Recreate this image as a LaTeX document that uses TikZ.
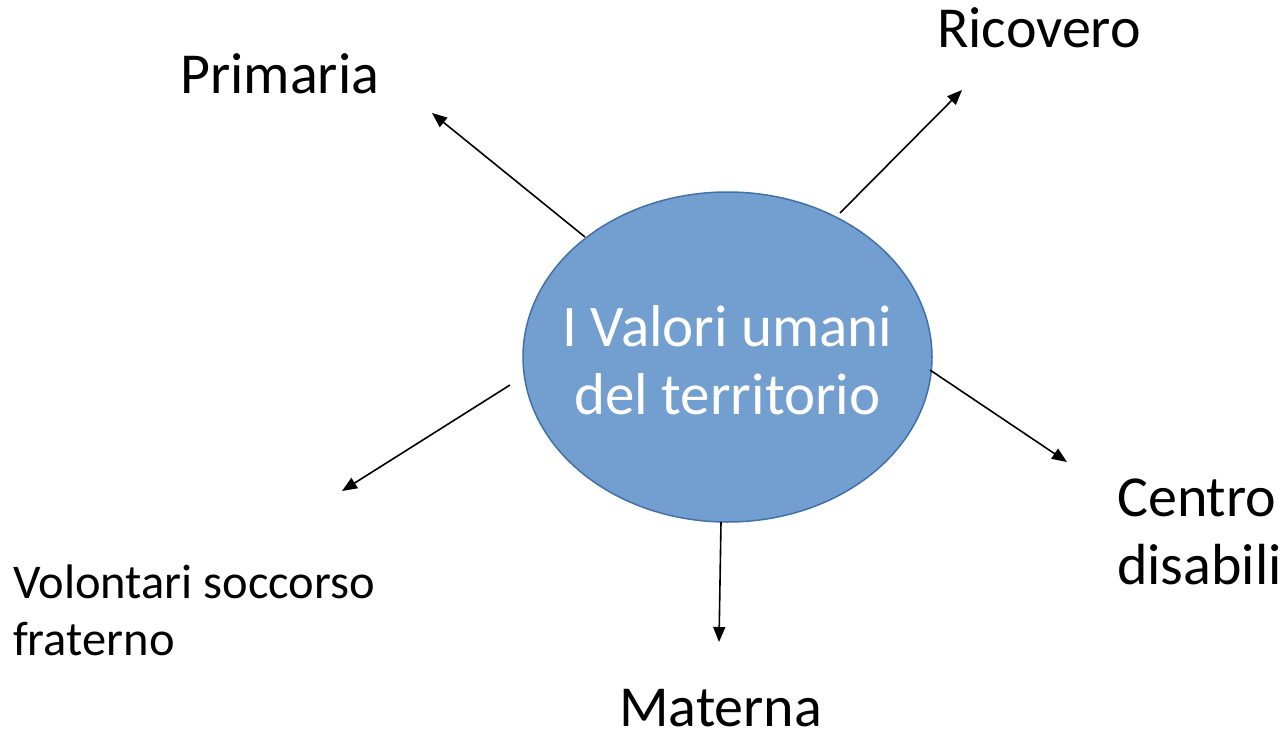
\documentclass[tikz,border=0pt]{standalone}
\usepackage{fontspec}
\setmainfont{Carlito}
\usetikzlibrary{arrows.meta,shapes.geometric}
\definecolor{ellfill}{RGB}{115,159,208}
\definecolor{elldraw}{RGB}{65,113,170}
\tikzset{
  conn/.style={line width=1.6pt,-{Triangle[length=15pt,width=12pt]}},
  biglabel/.style={inner sep=0pt,font=\fontsize{58}{68}\selectfont,align=left},
  ctrlabel/.style={inner sep=0pt,font=\fontsize{59}{68}\selectfont,align=center},
  smalllabel/.style={inner sep=0pt,font=\fontsize{48.5}{57}\selectfont,align=left}
}
\begin{document}
\begin{tikzpicture}[x=1pt,y=-1pt]
\useasboundingbox (0,0) rectangle (1287,733);
\node[ellipse,draw=elldraw,line width=1.5pt,fill=ellfill,minimum width=409pt,minimum height=330pt,inner sep=0pt] (c) at (727.5,357) {};
\node[ctrlabel,text=white,anchor=base] (ct) at (727.5,414) {I Valori umani\\del territorio};
\node[biglabel,anchor=base west] (prim) at (180,94) {Primaria};
\node[biglabel,anchor=base west] (ric) at (937,48) {Ricovero};
\node[biglabel,anchor=base west] (cen) at (1117,584) {Centro\\disabili};
\node[biglabel,anchor=base west] (mat) at (619,726) {Materna};
\node[smalllabel,anchor=base west] (vol) at (13,655) {Volontari soccorso\\fraterno};
\coordinate (s1) at (585,237); \coordinate (e1) at (432,113);
\coordinate (s2) at (840,213); \coordinate (e2) at (962,90);
\coordinate (s3) at (930,370); \coordinate (e3) at (1067,462);
\coordinate (s4) at (721,522); \coordinate (e4) at (719,642);
\coordinate (s5) at (510,385); \coordinate (e5) at (342,491);
\draw[conn] (s1) -- (e1);
\draw[conn] (s2) -- (e2);
\draw[conn] (s3) -- (e3);
\draw[conn] (s4) -- (e4);
\draw[conn] (s5) -- (e5);
\end{tikzpicture}
\end{document}
